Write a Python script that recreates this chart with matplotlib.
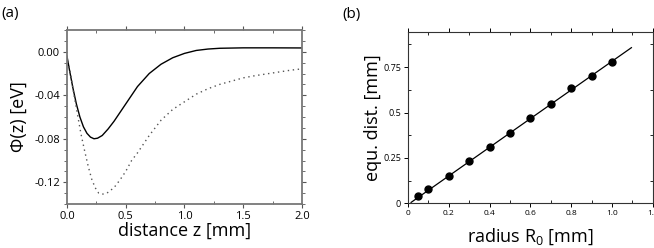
import matplotlib
matplotlib.use("Agg")
import matplotlib.pyplot as plt
from matplotlib.ticker import MultipleLocator

plt.rcParams['font.family'] = ['Open Sans', 'DejaVu Sans']
plt.rcParams['mathtext.fontset'] = 'custom'
plt.rcParams['mathtext.rm'] = 'Open Sans'

# ---- Panel (a) data ----
z_solid = [0.00, 0.02, 0.05, 0.08, 0.11, 0.14, 0.17, 0.20, 0.23, 0.26, 0.30, 0.35,
           0.40, 0.45, 0.50, 0.55, 0.60, 0.65, 0.70, 0.80, 0.90, 1.00, 1.10, 1.20,
           1.30, 1.50, 1.75, 2.00]
phi_solid = [-0.004, -0.016, -0.033, -0.048, -0.060, -0.069, -0.075, -0.0785, -0.080,
             -0.0795, -0.077, -0.071, -0.064, -0.056, -0.048, -0.040, -0.032, -0.026,
             -0.020, -0.0115, -0.0055, -0.0015, 0.0012, 0.0025, 0.0032, 0.0036,
             0.0036, 0.0035]
z_dotted = [0.00, 0.03, 0.06, 0.09, 0.12, 0.15, 0.18, 0.21, 0.24, 0.27, 0.30, 0.34,
            0.40, 0.45, 0.50, 0.55, 0.60, 0.65, 0.70, 0.75, 0.80, 0.90, 1.00, 1.10,
            1.20, 1.30, 1.40, 1.50, 1.60, 1.75, 1.90, 2.00]
phi_dotted = [-0.004, -0.020, -0.040, -0.058, -0.076, -0.091, -0.105, -0.117, -0.125,
              -0.130, -0.131, -0.130, -0.125, -0.118, -0.110, -0.100, -0.093, -0.085,
              -0.077, -0.070, -0.063, -0.053, -0.046, -0.039, -0.034, -0.030, -0.027,
              -0.024, -0.022, -0.0195, -0.017, -0.0157]

# ---- Panel (b) data ----
radius = [0.05, 0.1, 0.2, 0.3, 0.4, 0.5, 0.6, 0.7, 0.8, 0.9, 1.0]
equ_dist = [0.040, 0.079, 0.149, 0.233, 0.312, 0.389, 0.468, 0.545, 0.633, 0.701, 0.780]
fit_x = [0.015, 1.095]
fit_y = [0.005, 0.857]

a_yticks = [0.00, -0.04, -0.08, -0.12]
a_yticklabels = ["0.00", "-0.04", "-0.08", "-0.12"]
a_xticks = [0.0, 0.5, 1.0, 1.5, 2.0]
a_xticklabels = ["0.0", "0.5", "1.0", "1.5", "2.0"]
b_yticks = [0, 0.25, 0.5, 0.75]
b_yticklabels = ["0", "0.25", "0.5", "0.75"]
b_xticks = [0, 0.2, 0.4, 0.6, 0.8, 1.0, 1.2]
b_xticklabels = ["0", "0.2", "0.4", "0.6", "0.8", "1.0", "1.2"]

fig = plt.figure(figsize=(6.54, 2.48), dpi=100)

# Panel (a)
axa = fig.add_axes([0.1024, 0.1774, 0.3594, 0.7016])
axa.plot(z_solid, phi_solid, color='black', lw=1.0)
axa.plot(z_dotted, phi_dotted, color='#555555', lw=1.0, linestyle=(0, (1, 2.6)))
axa.set_xlim(0, 2.0)
axa.set_ylim(-0.14, 0.02)
axa.set_yticks(a_yticks)
axa.set_yticklabels(a_yticklabels)
axa.set_xticks(a_xticks)
axa.set_xticklabels(a_xticklabels)
axa.xaxis.set_minor_locator(MultipleLocator(0.25))
axa.yaxis.set_minor_locator(MultipleLocator(0.01))
for s in axa.spines.values():
    s.set_color('#777777')
    s.set_linewidth(1.3)
axa.tick_params(axis='both', which='major', direction='out', length=3, width=0.8,
                color='#555555', labelsize=8, pad=2, top=True, right=True)
axa.tick_params(axis='both', which='minor', direction='in', length=2, width=0.6,
                color='#555555', top=True, right=True)
axa.tick_params(axis='y', which='minor', direction='out')
axa.set_xlabel("distance z [mm]", fontsize=13, labelpad=0)
axa.set_ylabel("Φ(z) [eV]", fontsize=13, labelpad=5)
fig.text(0.002, 0.945, "(a)", fontsize=11, ha='left', va='center')

# Panel (b)
axb = fig.add_axes([0.6239, 0.1802, 0.3743, 0.692])
axb.plot(fit_x, fit_y, color='black', lw=0.9)
axb.plot(radius, equ_dist, 'o', color='black', markersize=5)
axb.set_xlim(0, 1.2)
axb.set_ylim(0, 0.945)
axb.set_yticks(b_yticks)
axb.set_yticklabels(b_yticklabels)
axb.set_xticks(b_xticks)
axb.set_xticklabels(b_xticklabels)
axb.xaxis.set_minor_locator(MultipleLocator(0.1))
axb.yaxis.set_minor_locator(MultipleLocator(0.125))
for s in axb.spines.values():
    s.set_color('#333333')
    s.set_linewidth(0.8)
axb.tick_params(axis='both', which='major', direction='out', length=3, width=0.7,
                labelsize=6.5, pad=2, top=True, right=True)
axb.tick_params(axis='both', which='minor', direction='in', length=2.5, width=0.6,
                top=True, right=True)
axb.tick_params(axis='x', which='major', labelsize=6)
axb.set_xlabel(r"radius R$_\mathregular{0}$ [mm]", fontsize=13, labelpad=7)
axb.set_ylabel("equ. dist. [mm]", fontsize=13, labelpad=1)
fig.text(0.523, 0.94, "(b)", fontsize=11, ha='left', va='center')

fig.savefig("out.png", dpi=100)
